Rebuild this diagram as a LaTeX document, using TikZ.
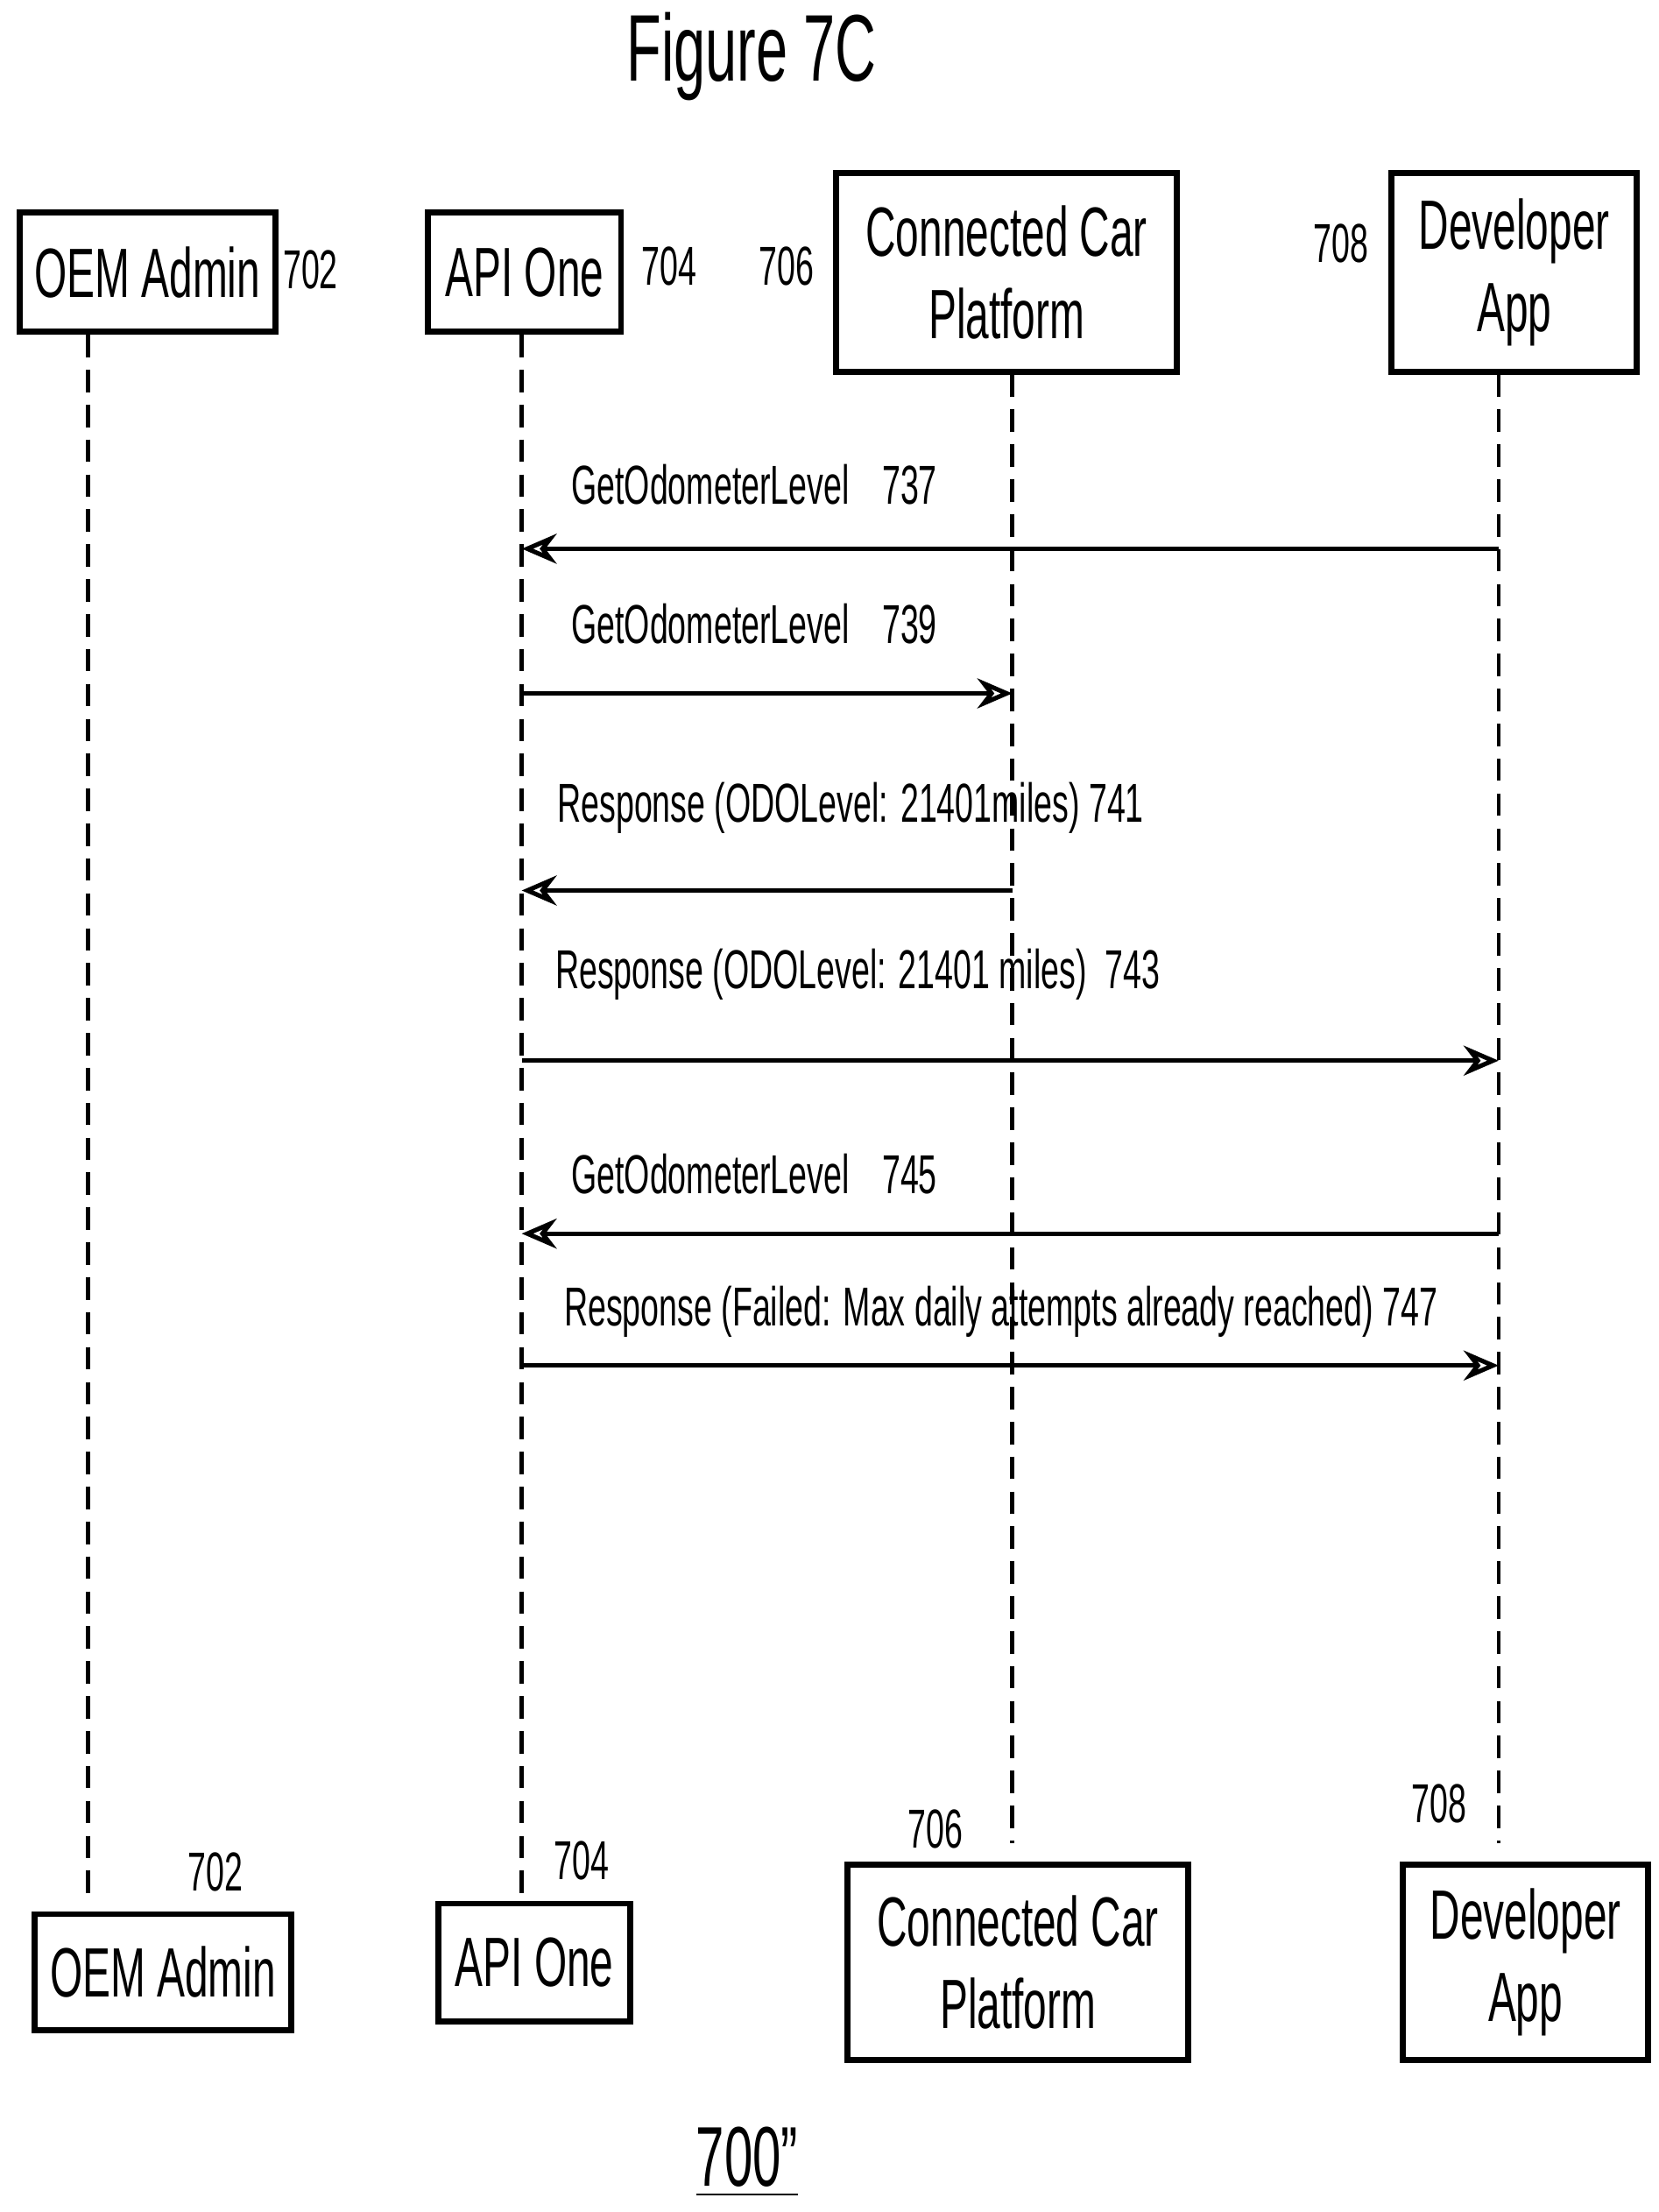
\documentclass[tikz,border=0pt]{standalone}
\usepackage{fontspec}
\setmainfont{Liberation Sans}
\usetikzlibrary{arrows.meta}
\newcommand{\nar}[1]{\scalebox{0.6}[1]{#1}}
\tikzset{
  party/.style={draw,line width=1.2pt,inner sep=0pt,font=\fontsize{14}{16.5}\selectfont,align=center},
  refnum/.style={font=\fontsize{11}{13}\selectfont,inner sep=0pt},
  msg/.style={font=\fontsize{11}{13}\selectfont,inner sep=0pt},
  life/.style={line width=0.8pt,dash pattern=on 4.5pt off 2.5pt},
  call/.style={line width=0.9pt,-{Stealth[open,length=7pt,width=6pt]}}
}
\begin{document}
\begin{tikzpicture}[x=0.01cm,y=-0.01cm]
\useasboundingbox (0,0) rectangle (1170,1560);
\node[font=\fontsize{19}{22}\selectfont] (title) at (530,40) {\nar{Figure 7C}};
% top boxes
\node[party,minimum width=1.80cm,minimum height=0.84cm] (oemT) at (104,192) {\nar{OEM Admin}};
\node[party,minimum width=1.36cm,minimum height=0.84cm] (apiT) at (370,192) {\nar{API One}};
\node[party,minimum width=2.40cm,minimum height=1.40cm] (ccpT) at (710,192) {\nar{Connected Car}\\\nar{Platform}};
\node[party,minimum width=1.73cm,minimum height=1.40cm] (devT) at (1068,192) {\nar{Developer}\\\nar{App}};
\node[refnum] (n702) at (219,190) {\nar{702}};
\node[refnum] (n704) at (472,188) {\nar{704}};
\node[refnum] (n706) at (555,188) {\nar{706}};
\node[refnum] (n708) at (946,172) {\nar{708}};
% bottom boxes
\node[party,minimum width=1.81cm,minimum height=0.82cm] (oemB) at (115,1391) {\nar{OEM Admin}};
\node[party,minimum width=1.35cm,minimum height=0.83cm] (apiB) at (377,1384) {\nar{API One}};
\node[party,minimum width=2.40cm,minimum height=1.38cm] (ccpB) at (718,1384) {\nar{Connected Car}\\\nar{Platform}};
\node[party,minimum width=1.73cm,minimum height=1.38cm] (devB) at (1076,1384) {\nar{Developer}\\\nar{App}};
\node[refnum] (b702) at (152,1320) {\nar{702}};
\node[refnum] (b704) at (410,1312) {\nar{704}};
\node[refnum] (b706) at (660,1290) {\nar{706}};
\node[refnum] (b708) at (1015,1272) {\nar{708}};
\node[font=\fontsize{17}{20}\selectfont] (fig) at (527,1525) {\underline{\nar{700''}}};
% lifelines
\coordinate (oemE) at (62,1335);
\coordinate (apiE) at (368,1335);
\coordinate (ccpE) at (714,1300);
\coordinate (devE) at (1057,1300);
\draw[life] (oemT.south -| oemE) -- (oemE);
\draw[life] (apiT.south -| apiE) -- (apiE);
\draw[life] (ccpT.south -| ccpE) -- (ccpE);
\draw[life] (devT.south -| devE) -- (devE);
% messages
\foreach \y/\nm in {387/a,489/b,628/c,748/d,870/e,963/f}{
  \coordinate (api\nm) at (368,\y);
  \coordinate (ccp\nm) at (714,\y);
  \coordinate (dev\nm) at (1057,\y);
}
\draw[call] (deva) -- (apia);
\draw[call] (apib) -- (ccpb);
\draw[call] (ccpc) -- (apic);
\draw[call] (apid) -- (devd);
\draw[call] (deve) -- (apie);
\draw[call] (apif) -- (devf);
\node[msg] (m737) at (532,342) {\nar{GetOdometerLevel\quad 737}};
\node[msg] (m739) at (532,440) {\nar{GetOdometerLevel\quad 739}};
\node[msg] (m741) at (600,570) {\nar{Response (ODOLevel: 21401miles) 741}};
\node[msg] (m743) at (605,687) {\nar{Response (ODOLevel: 21401 miles)\ \ 743}};
\node[msg] (m745) at (532,828) {\nar{GetOdometerLevel\quad 745}};
\node[msg] (m747) at (706,925) {\nar{Response (Failed: Max daily attempts already reached) 747}};
\end{tikzpicture}
\end{document}
